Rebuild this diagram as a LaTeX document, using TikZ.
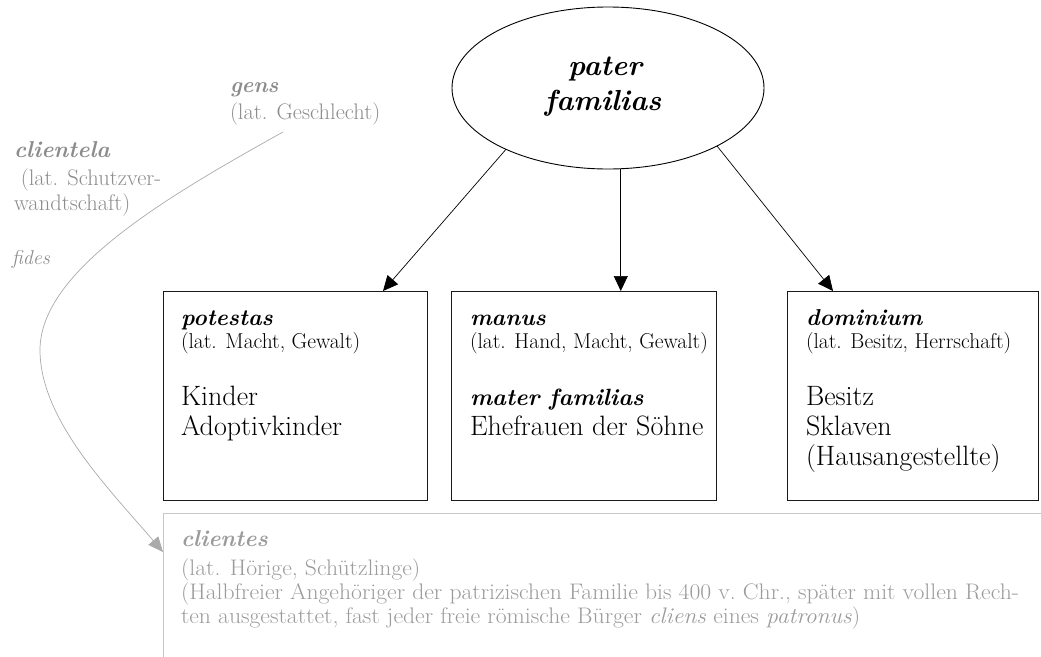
\documentclass[tikz,border=0pt]{standalone}
\usepackage{fontspec}
\usepackage{graphicx}
\usetikzlibrary{shapes.geometric,arrows.meta,calc}
\definecolor{gtext}{RGB}{140,140,140}
\definecolor{gtextb}{RGB}{155,155,155}
\definecolor{gline}{RGB}{170,170,170}
\definecolor{gbox}{RGB}{200,200,200}
\definecolor{bline}{RGB}{25,25,25}
\newsavebox\llbox
\begin{document}
\sbox\llbox{\fontsize{22.5}{24}\selectfont (Halbfreier Angehöriger der patrizischen Familie bis 400 v.\ Chr., später mit vollen Rech-}%
\begin{tikzpicture}[x=1pt,y=-1pt,
  every node/.style={inner sep=0pt, outer sep=0pt},
  txt/.style={anchor=base west, inner sep=0pt},
  hd/.style={txt, font=\fontsize{23}{23}\selectfont\bfseries\itshape},
  sub/.style={txt, font=\fontsize{21.5}{22}\selectfont},
  bod/.style={txt, font=\fontsize{28}{28}\selectfont},
  bodhd/.style={txt, font=\fontsize{23.5}{24}\selectfont\bfseries\itshape},
  ghd/.style={hd, text=gtext},
  gsub/.style={txt, text=gtext, font=\fontsize{22.5}{23}\selectfont},
  btx/.style={txt, text=gtextb, font=\fontsize{22.5}{24}\selectfont},
  ptxt/.style={anchor=base, font=\fontsize{29}{29}\selectfont\bfseries\itshape},
  cbox/.style={draw=bline, line width=1pt, anchor=north west, minimum height=209pt},
  arr/.style={draw=black, line width=0.7pt, -{Triangle[length=15pt,width=14pt]}},
  garr/.style={draw=gline, line width=0.7pt, -{Triangle[length=15pt,width=13pt,fill=gline]}}
]
\pgfmathsetmacro\bsx{838/\the\wd\llbox}
\path[use as bounding box] (0,0) rectangle (1041,656);

% ellipse
\node (pfe) [ellipse, draw, line width=0.9pt, minimum width=312pt, minimum height=162pt] at (608,88) {};
\node (pf1) [ptxt] at (605,75) {pater};
\node (pf2) [ptxt] at (603,110) {familias};

% boxes
\node (b1) [cbox, minimum width=264pt] at (163,291) {};
\node (b2) [cbox, minimum width=265pt] at (451,291) {};
\node (b3) [cbox, minimum width=251pt] at (787,291) {};
\begin{scope}
\clip (0,0) rectangle (1041,656);
\node (b4) [draw=gbox, line width=1pt, anchor=north west, minimum width=950pt, minimum height=220pt] at (163,513) {};
\end{scope}

% box 1
\node (t1a) [hd] at (181,325) {potestas};
\node (t1b) [sub] at (181,348) {(lat. Macht, Gewalt)};
\node (t1c) [bod] at (181,405) {Kinder};
\node (t1d) [bod] at (181,435) {Adoptivkinder};

% box 2
\node (t2a) [hd] at (470,325) {manus};
\node (t2b) [sub] at (470,348) {(lat. Hand, Macht, Gewalt)};
\node (t2c) [bodhd] at (470,405) {mater familias};
\node (t2d) [bod] at (470,435) {Ehefrauen der Söhne};

% box 3
\node (t3a) [hd] at (806,325) {dominium};
\node (t3b) [sub] at (806,348) {(lat. Besitz, Herrschaft)};
\node (t3c) [bod] at (806,405) {Besitz};
\node (t3d) [bod] at (806,435) {Sklaven};
\node (t3e) [bod] at (806,465) {(Hausangestellte)};

% grey labels
\node (gens) [ghd, font=\fontsize{22}{22}\selectfont\bfseries\itshape] at (230,92) {gens};
\node (gensb) [gsub] at (230,119) {(lat. Geschlecht)};
\node (clt) [ghd] at (14,157) {clientela};
\node (cltb) [gsub] at (14,185) {\ (lat. Schutzver-};
\node (cltc) [gsub] at (14,210) {wandtschaft)};
\node (fid) [gsub, font=\fontsize{20}{20}\selectfont\itshape] at (12,264) {fides};

% bottom box text
\node (cl) [ghd, text=gtextb] at (181,546) {clientes};
\node (cl1) [btx] at (181,575) {\scalebox{\bsx}[1]{(lat. Hörige, Schützlinge)}};
\node (cl2) [btx] at (181,599) {\scalebox{\bsx}[1]{(Halbfreier Angehöriger der patrizischen Familie bis 400 v.\ Chr., später mit vollen Rech-}};
\node (cl3) [btx] at (181,623) {\scalebox{\bsx}[1]{ten ausgestattet, fast jeder freie römische Bürger \textit{cliens} eines \textit{patronus})}};

% arrows
\draw[arr] (pfe.211.3) -- ($(b1.north west)+(220,0)$);
\draw[arr] (pfe.279.2) -- (pfe.279.2 |- b2.north);
\draw[arr] (pfe.332) -- ($(b3.north west)+(46,0)$);

% grey curve
\coordinate (gs) at (283,132);
\coordinate (gm) at (40,350);
\coordinate (ge) at (163,552);
\draw[garr] (gs) .. controls (170,195) and (40,270) .. (gm) .. controls (40,420) and (110,490) .. (ge);
\end{tikzpicture}
\end{document}
